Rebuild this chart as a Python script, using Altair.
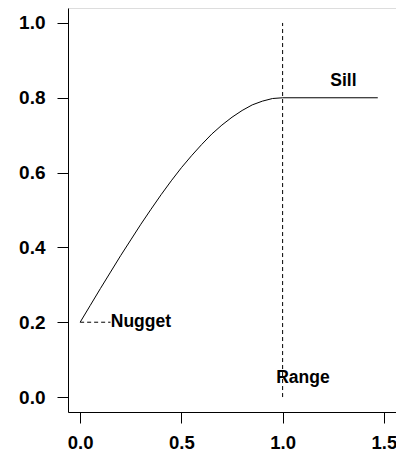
import altair as alt
import pandas as pd

# variogram curve values
lag = [0.0, 0.05, 0.1, 0.15, 0.2, 0.25, 0.3, 0.35, 0.4, 0.45, 0.5, 0.55, 0.6,
       0.65, 0.7, 0.75, 0.8, 0.85, 0.9, 0.95, 1.0, 1.47]
semivar = [0.200, 0.245, 0.290, 0.334, 0.378, 0.420, 0.462, 0.502, 0.541, 0.578,
           0.613, 0.645, 0.675, 0.703, 0.727, 0.748, 0.766, 0.781, 0.791, 0.798,
           0.800, 0.800]

# annotations
ann_text = ["Nugget", "Range", "Sill"]
ann_x = [0.30, 1.10, 1.30]
ann_y = [0.20, 0.05, 0.845]

# dashed guide segments
nug_x, nug_x2, nug_y = [0.0], [0.15], [0.2]
rng_x, rng_y, rng_y2 = [1.0], [0.0], [1.0]

x_ticks = [0.0, 0.5, 1.0, 1.5]
y_ticks = [0.0, 0.2, 0.4, 0.6, 0.8, 1.0]

FONT = "Liberation Sans"

xs = alt.Scale(domain=[-0.06, 1.56], nice=False, zero=False)
ys = alt.Scale(domain=[-0.04, 1.04], nice=False, zero=False)

xaxis = alt.Axis(values=x_ticks, format=".1f", title=None, grid=False,
                 tickSize=11, labelPadding=25, labelBaseline="alphabetic",
                 labelFontSize=18.5,
                 labelFont=FONT, labelFontWeight="bold", labelColor="black",
                 domainColor="black", tickColor="black", labelFlush=False)
yaxis = alt.Axis(values=y_ticks, format=".1f", title=None, grid=False,
                 tickSize=11, labelPadding=12, labelFontSize=19,
                 labelFont=FONT, labelFontWeight="bold", labelColor="black",
                 domainColor="black", tickColor="black", labelFlush=False)

curve_df = pd.DataFrame({"h": lag, "g": semivar})
curve = alt.Chart(curve_df).mark_line(color="black", strokeWidth=1).encode(
    x=alt.X("h:Q", scale=xs, axis=xaxis),
    y=alt.Y("g:Q", scale=ys, axis=yaxis),
)

nug_df = pd.DataFrame({"x": nug_x, "x2": nug_x2, "y": nug_y})
nug = alt.Chart(nug_df).mark_rule(color="black", strokeWidth=1, strokeDash=[4, 3]).encode(
    x=alt.X("x:Q", scale=xs), x2="x2:Q", y=alt.Y("y:Q", scale=ys)
)

rng_df = pd.DataFrame({"x": rng_x, "y": rng_y, "y2": rng_y2})
rng = alt.Chart(rng_df).mark_rule(color="black", strokeWidth=1, strokeDash=[4, 3]).encode(
    x=alt.X("x:Q", scale=xs), y=alt.Y("y:Q", scale=ys), y2="y2:Q"
)

ann_df = pd.DataFrame({"t": ann_text, "x": ann_x, "y": ann_y})
ann = alt.Chart(ann_df).mark_text(font=FONT, fontSize=17.5, fontWeight="bold",
                                  color="black", align="center", baseline="middle").encode(
    x=alt.X("x:Q", scale=xs), y=alt.Y("y:Q", scale=ys), text="t:N"
)

chart = alt.layer(curve, nug, rng, ann).properties(
    width=328, height=404,
    autosize=alt.AutoSizeParams(type="none"),
    padding={"left": 60, "top": 0, "right": 0, "bottom": 39},
).configure_view(stroke=None).configure(background="white")

chart.save("out.html", embed_options={"renderer": "svg", "actions": False})
